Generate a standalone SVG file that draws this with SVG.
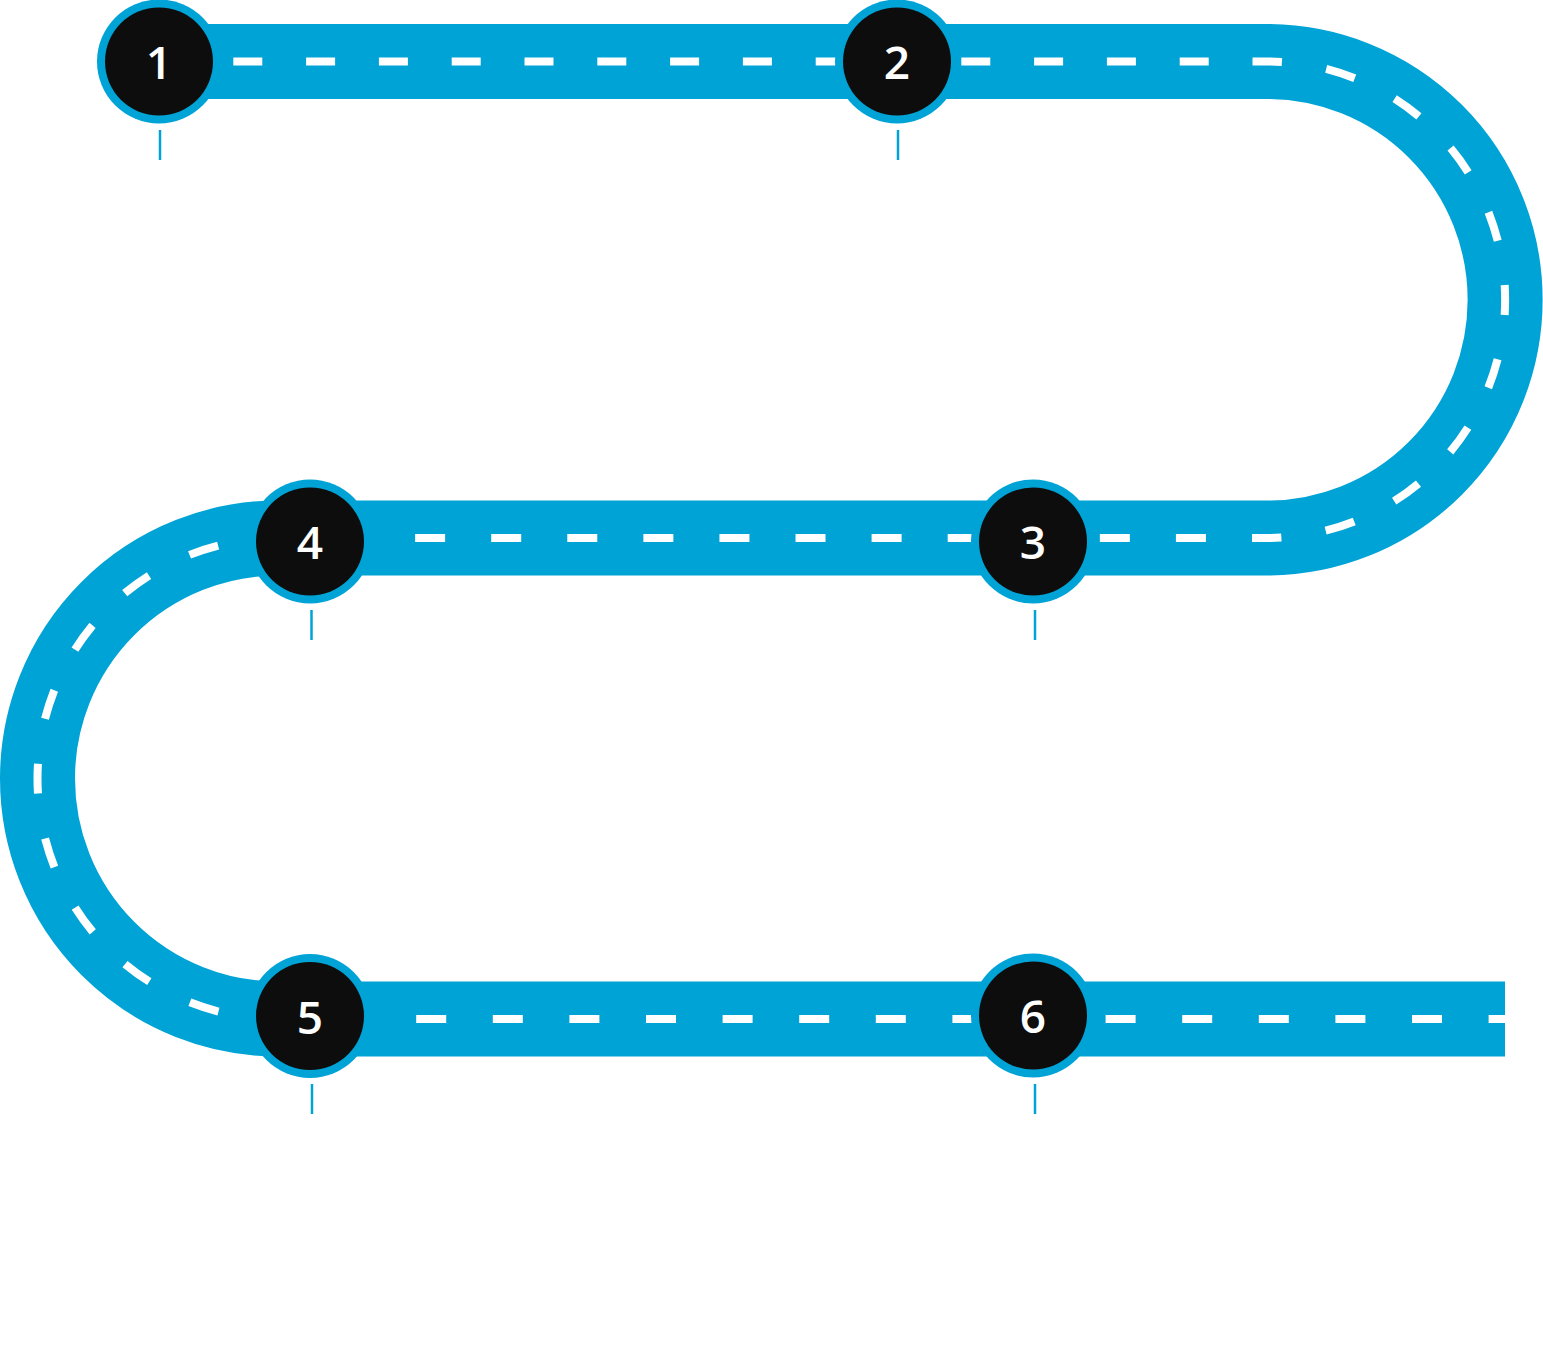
<svg xmlns="http://www.w3.org/2000/svg" width="1543" height="1360" viewBox="0 0 1543 1360">
<style>
.road{fill:none;stroke:#00a3d6;stroke-width:75;stroke-linecap:butt}
.lane{fill:none;stroke:#ffffff;stroke-width:8;stroke-linecap:butt}
.ring{fill:#00a3d6}
.core{fill:#0d0d0d}
.num{fill:#ffffff;font-family:"Open Sans","Noto Sans","Liberation Sans",sans-serif;font-size:46px;font-weight:600;text-anchor:middle}
.tick{stroke:#00a3d6;stroke-width:2.5}
</style>
<rect width="1543" height="1360" fill="#ffffff"/>
<g id="connectors">
<path class="road" d="M159 61.5 H1267 A238.25 238.25 0 0 1 1267 538 H278 A240.5 240.5 0 0 0 278 1019 H1505"/>
<path class="lane" d="M1267 61.5 H159" stroke-dasharray="29 43.8" stroke-dashoffset="14.5"/>
<path class="lane" d="M1267 61.5 A238.25 238.25 0 0 1 1267 538" stroke-dasharray="30 44.85" stroke-dashoffset="15"/>
<path class="lane" d="M1267 538 H278" stroke-dasharray="30 46.08" stroke-dashoffset="15"/>
<path class="lane" d="M278 538 A240.5 240.5 0 0 0 278 1019" stroke-dasharray="30 45.56" stroke-dashoffset="15"/>
<path class="lane" d="M278 1019 H1505" stroke-dasharray="30 46.6" stroke-dashoffset="15"/>
</g>
<g id="node1">
<circle class="ring" cx="159" cy="61.5" r="62"/><circle class="core" cx="159" cy="61.5" r="54"/>
<text class="num" x="159" y="79">1</text>
<line class="tick" x1="160" y1="130" x2="160" y2="160"/>
</g>
<g id="node2">
<circle class="ring" cx="897" cy="61.5" r="62"/><circle class="core" cx="897" cy="61.5" r="54"/>
<text class="num" x="897" y="79">2</text>
<line class="tick" x1="898" y1="130" x2="898" y2="160"/>
</g>
<g id="node3">
<circle class="ring" cx="1033" cy="541.5" r="62"/><circle class="core" cx="1033" cy="541.5" r="54"/>
<text class="num" x="1033" y="559">3</text>
<line class="tick" x1="1035" y1="610" x2="1035" y2="640"/>
</g>
<g id="node4">
<circle class="ring" cx="310" cy="541.5" r="62"/><circle class="core" cx="310" cy="541.5" r="54"/>
<text class="num" x="310" y="559">4</text>
<line class="tick" x1="311.5" y1="610" x2="311.5" y2="640"/>
</g>
<g id="node5">
<circle class="ring" cx="310" cy="1016" r="62"/><circle class="core" cx="310" cy="1016" r="54"/>
<text class="num" x="310" y="1033.5">5</text>
<line class="tick" x1="312" y1="1084" x2="312" y2="1114"/>
</g>
<g id="node6">
<circle class="ring" cx="1033" cy="1015.5" r="62"/><circle class="core" cx="1033" cy="1015.5" r="54"/>
<text class="num" x="1033" y="1033">6</text>
<line class="tick" x1="1035" y1="1084" x2="1035" y2="1114"/>
</g>
</svg>
